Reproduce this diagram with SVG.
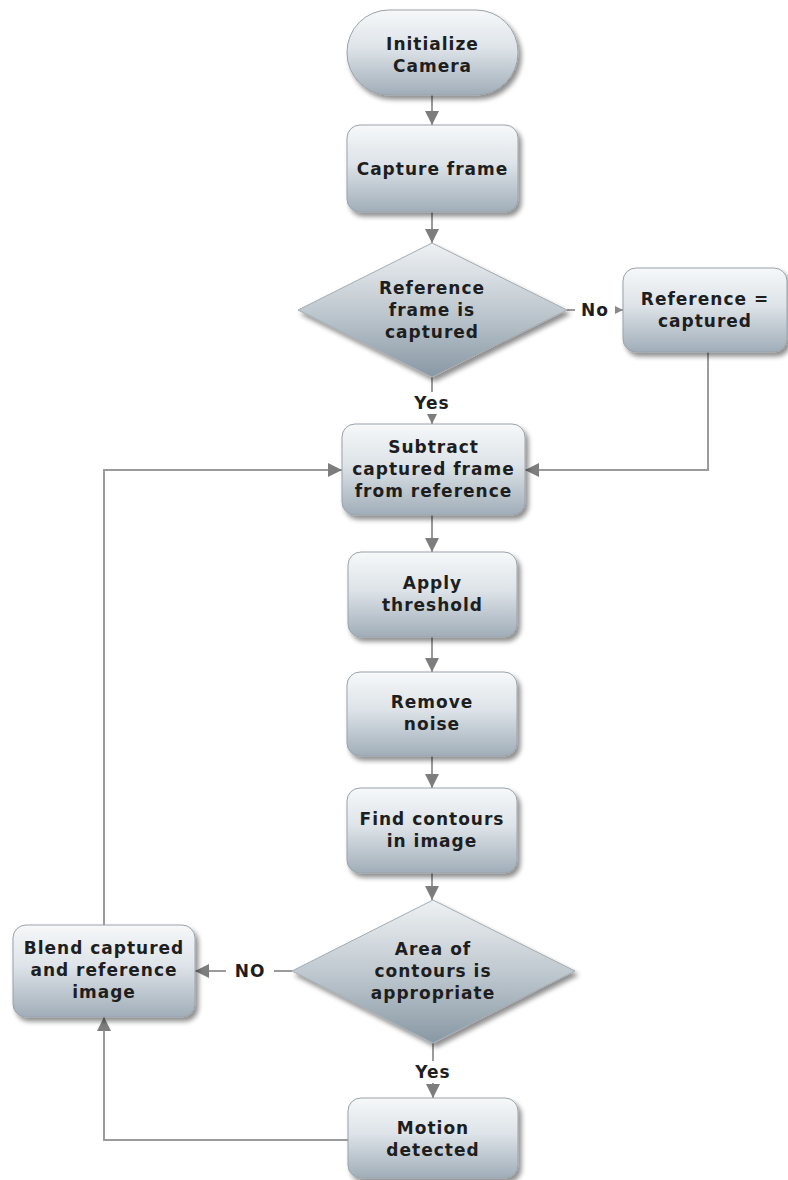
<svg xmlns="http://www.w3.org/2000/svg" width="788" height="1180" viewBox="0 0 788 1180">
<defs>
<linearGradient id="gBox" x1="0" y1="0" x2="0" y2="1">
<stop offset="0" stop-color="#f6f8f9"/>
<stop offset="0.45" stop-color="#dde3e8"/>
<stop offset="1" stop-color="#a0adb8"/>
</linearGradient>
<linearGradient id="gDia" x1="0" y1="0" x2="0" y2="1">
<stop offset="0" stop-color="#eef1f3"/>
<stop offset="0.5" stop-color="#c0c9d0"/>
<stop offset="1" stop-color="#8898a4"/>
</linearGradient>
<filter id="sh" x="-10%" y="-10%" width="125%" height="130%">
<feGaussianBlur in="SourceAlpha" stdDeviation="2.5"/>
<feOffset dx="3" dy="4" result="b"/>
<feComponentTransfer><feFuncA type="linear" slope="0.45"/></feComponentTransfer>
<feMerge><feMergeNode/><feMergeNode in="SourceGraphic"/></feMerge>
</filter>
<marker id="arr" markerUnits="userSpaceOnUse" markerWidth="16" markerHeight="16" refX="14" refY="7" orient="auto">
<path d="M0,0 L14,7 L0,14 Z" fill="#7d7d7d"/>
</marker>
<marker id="arrS" markerUnits="userSpaceOnUse" markerWidth="10" markerHeight="10" refX="8" refY="4" orient="auto">
<path d="M0,0 L8,4 L0,8 Z" fill="#8a8a8a"/>
</marker>
<style>
.box{fill:url(#gBox);stroke:#9aa3aa;stroke-width:1;filter:url(#sh);}
.dia{fill:url(#gDia);stroke:#a3abb1;stroke-width:1;filter:url(#sh);}
.t{font-family:"DejaVu Sans",Verdana,sans-serif;font-weight:bold;font-size:17px;letter-spacing:1px;fill:#1e1e1e;text-anchor:middle;}
.c{fill:none;stroke:#9b9b9b;stroke-width:2;}
.lb{fill:#ffffff;}
</style>
</defs>
<rect width="788" height="1180" fill="#ffffff"/>

<g id="connectors">
<path class="c" d="M432,95 V125" marker-end="url(#arr)"/>
<path class="c" d="M432,212 V243" marker-end="url(#arr)"/>
<path class="c" d="M432,377 V424" marker-end="url(#arr)"/>
<path class="c" d="M567,310 H623" marker-end="url(#arrS)"/>
<path class="c" d="M708,352 V470 H525" marker-end="url(#arr)"/>
<path class="c" d="M432,515 V552" marker-end="url(#arr)"/>
<path class="c" d="M432,637 V672" marker-end="url(#arr)"/>
<path class="c" d="M432,756 V788" marker-end="url(#arr)"/>
<path class="c" d="M432,873 V900" marker-end="url(#arr)"/>
<path class="c" d="M433,1043 V1098" marker-end="url(#arr)"/>
<path class="c" d="M292,971 H195" marker-end="url(#arr)"/>
<path class="c" d="M348,1140 H104 V1017" marker-end="url(#arr)"/>
<path class="c" d="M104,925 V470 H342" marker-end="url(#arr)"/>
<rect class="lb" x="575" y="298" width="40" height="22"/>
<text class="t" x="595" y="316">No</text>
<rect class="lb" x="409" y="392" width="46" height="22"/>
<text class="t" x="432" y="409">Yes</text>
<rect class="lb" x="226" y="960" width="48" height="22"/>
<text class="t" x="250" y="977">NO</text>
<rect class="lb" x="410" y="1061" width="46" height="22"/>
<text class="t" x="433" y="1078">Yes</text>
</g>

<g id="n-init">
<rect class="box" x="347" y="10" width="171" height="85" rx="42" ry="42"/>
<text class="t" x="432.5" y="50">Initialize</text>
<text class="t" x="432.5" y="72">Camera</text>
</g>
<g id="n-capture">
<rect class="box" x="347" y="125" width="171" height="87" rx="13"/>
<text class="t" x="432.5" y="175">Capture frame</text>
</g>
<g id="n-dec1">
<polygon class="dia" points="432,243 567,310 432,377 298,310"/>
<text class="t" x="432" y="294">Reference</text>
<text class="t" x="432" y="316">frame is</text>
<text class="t" x="432" y="338">captured</text>
</g>
<g id="n-ref">
<rect class="box" x="623" y="268" width="164" height="84" rx="13"/>
<text class="t" x="705" y="305">Reference =</text>
<text class="t" x="705" y="327">captured</text>
</g>
<g id="n-subtract">
<rect class="box" x="342" y="424" width="183" height="91" rx="13"/>
<text class="t" x="433.5" y="453">Subtract</text>
<text class="t" x="433.5" y="475">captured frame</text>
<text class="t" x="433.5" y="497">from reference</text>
</g>
<g id="n-threshold">
<rect class="box" x="348" y="552" width="169" height="85" rx="13"/>
<text class="t" x="432.5" y="589">Apply</text>
<text class="t" x="432.5" y="611">threshold</text>
</g>
<g id="n-noise">
<rect class="box" x="347" y="672" width="170" height="84" rx="13"/>
<text class="t" x="432" y="708">Remove</text>
<text class="t" x="432" y="730">noise</text>
</g>
<g id="n-contours">
<rect class="box" x="347" y="788" width="170" height="85" rx="13"/>
<text class="t" x="432" y="825">Find contours</text>
<text class="t" x="432" y="847">in image</text>
</g>
<g id="n-dec2">
<polygon class="dia" points="433,900 575,971 433,1043 292,971"/>
<text class="t" x="433" y="955">Area of</text>
<text class="t" x="433" y="977">contours is</text>
<text class="t" x="433" y="999">appropriate</text>
</g>
<g id="n-blend">
<rect class="box" x="13" y="925" width="182" height="92" rx="13"/>
<text class="t" x="104" y="954">Blend captured</text>
<text class="t" x="104" y="976">and reference</text>
<text class="t" x="104" y="998">image</text>
</g>
<g id="n-motion">
<rect class="box" x="348" y="1098" width="170" height="80" rx="13"/>
<text class="t" x="433" y="1134">Motion</text>
<text class="t" x="433" y="1156">detected</text>
</g>
</svg>
